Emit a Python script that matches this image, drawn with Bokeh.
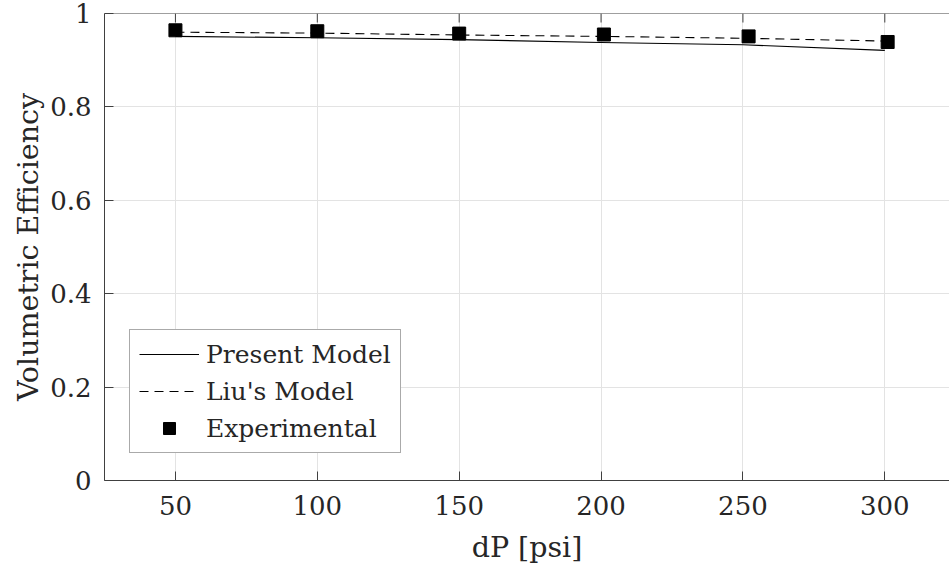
from bokeh.plotting import figure
from bokeh.models import Range1d, FixedTicker, Legend, LegendItem, Span
from bokeh.embed import file_html
from bokeh.resources import INLINE

# Differential pressure [psi] for the model curves
pressure = [50, 100, 150, 200, 250, 300]
present_model = [0.951, 0.948, 0.944, 0.938, 0.933, 0.921]
liu_model = [0.960, 0.958, 0.954, 0.951, 0.947, 0.941]

# Measured points
exp_pressure = [50, 100, 150, 201, 252, 301]
exp_efficiency = [0.964, 0.962, 0.957, 0.955, 0.951, 0.939]

x_ticks = [50, 100, 150, 200, 250, 300]
y_ticks = [0, 0.2, 0.4, 0.6, 0.8, 1]
y_tick_labels = ["0", "0.2", "0.4", "0.6", "0.8", "1"]

FONT = "DejaVu Serif"
TEXT = "#262626"
AXIS = "#404040"
Y_MIN, Y_MAX = 0, 1
FRAME_H = 467          # plot-area height in px
TICK_PX = 9            # inward tick length

p = figure(width=949, height=573, output_backend="svg", toolbar_location=None,
           x_range=Range1d(25, 322.8), y_range=Range1d(Y_MIN, Y_MAX),
           min_border_left=104, min_border_right=0, min_border_top=13,
           min_border_bottom=93, x_axis_label="dP [psi]",
           y_axis_label="Volumetric Efficiency")
p.outline_line_color = None
p.background_fill_color = "white"
p.border_fill_color = "white"

for ax in (p.xaxis[0], p.yaxis[0]):
    ax.major_tick_in = TICK_PX
    ax.major_tick_out = 0
    ax.minor_tick_line_color = None
    ax.axis_line_color = AXIS
    ax.major_tick_line_color = AXIS
    ax.major_label_text_font = FONT
    ax.major_label_text_font_size = "26px"
    ax.major_label_text_color = TEXT
    ax.axis_label_text_font = FONT
    ax.axis_label_text_font_size = "28.5px"
    ax.axis_label_text_font_style = "normal"
    ax.axis_label_text_color = TEXT

p.xaxis[0].ticker = FixedTicker(ticks=x_ticks)
p.yaxis[0].ticker = FixedTicker(ticks=y_ticks)
p.yaxis[0].major_label_overrides = {t: s for t, s in zip(y_ticks, y_tick_labels)}
p.xaxis[0].major_label_standoff = 15
p.yaxis[0].major_label_standoff = 13
p.xaxis[0].axis_label_standoff = 13
p.yaxis[0].axis_label_standoff = 2

p.xgrid.ticker = FixedTicker(ticks=x_ticks)
p.ygrid.ticker = FixedTicker(ticks=y_ticks)
p.xgrid.grid_line_color = "#e3e3e3"
p.ygrid.grid_line_color = "#e3e3e3"

# Top edge of the box, with inward ticks at the x tick positions
p.add_layout(Span(location=Y_MAX, dimension="width", line_color=AXIS, line_width=1))
tick_len = TICK_PX * (Y_MAX - Y_MIN) / FRAME_H
p.segment(x0=x_ticks, y0=[Y_MAX] * len(x_ticks), x1=x_ticks,
          y1=[Y_MAX - tick_len] * len(x_ticks), line_color=AXIS, line_width=1)

r_present = p.line(pressure, present_model, line_color="black", line_width=1.1)
r_liu = p.line(pressure, liu_model, line_color="black", line_width=1.1, line_dash="9 6")
r_exp = p.scatter(exp_pressure, exp_efficiency, marker="square", size=13,
                  fill_color="black", line_color="black")

legend = Legend(items=[
    LegendItem(label="Present Model", renderers=[r_present]),
    LegendItem(label="Liu's Model", renderers=[r_liu]),
    LegendItem(label="Experimental", renderers=[r_exp]),
], location=(25, 27))
legend.label_text_font = FONT
legend.label_text_font_size = "25px"
legend.label_text_color = TEXT
legend.border_line_color = "#555555"
legend.border_line_width = 1
legend.background_fill_color = "white"
legend.background_fill_alpha = 1
legend.glyph_width = 60
legend.glyph_height = 30
legend.label_height = 30
legend.label_standoff = 7
legend.spacing = 7
legend.padding = 9
legend.margin = 0
p.add_layout(legend, "center")

open("out.html", "w").write(file_html(p, INLINE))
